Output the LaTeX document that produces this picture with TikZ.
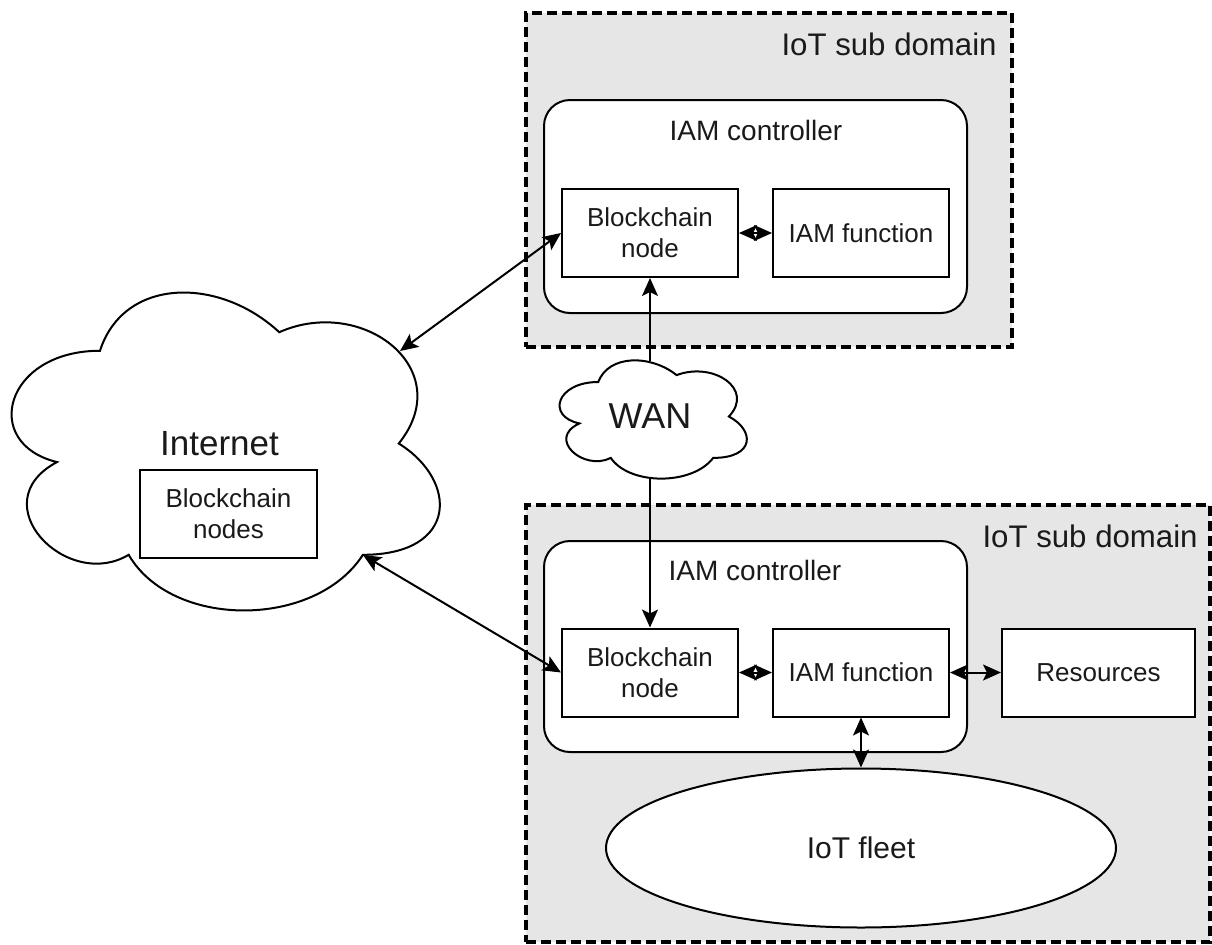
\documentclass[tikz,border=0pt]{standalone}
\usepackage{fontspec}
\setmainfont{Liberation Sans}
\usetikzlibrary{arrows.meta,shapes.geometric}
\definecolor{domgray}{HTML}{E6E6E6}
\definecolor{txt}{HTML}{1A1A1A}
\newcommand{\mxcloud}[5]{%
  \draw[#1] ({#2+0.25*#4},{#3+0.25*#5})
    .. controls ({#2+0.05*#4},{#3+0.25*#5}) and ({#2},{#3+0.5*#5}) .. ({#2+0.16*#4},{#3+0.55*#5})
    .. controls ({#2},{#3+0.66*#5}) and ({#2+0.18*#4},{#3+0.9*#5}) .. ({#2+0.31*#4},{#3+0.8*#5})
    .. controls ({#2+0.4*#4},{#3+#5}) and ({#2+0.7*#4},{#3+#5}) .. ({#2+0.8*#4},{#3+0.8*#5})
    .. controls ({#2+#4},{#3+0.8*#5}) and ({#2+#4},{#3+0.6*#5}) .. ({#2+0.875*#4},{#3+0.5*#5})
    .. controls ({#2+#4},{#3+0.3*#5}) and ({#2+0.8*#4},{#3+0.1*#5}) .. ({#2+0.625*#4},{#3+0.2*#5})
    .. controls ({#2+0.5*#4},{#3+0.05*#5}) and ({#2+0.3*#4},{#3+0.05*#5}) .. cycle;}
\tikzset{
  domainbox/.style={draw, dash pattern=on 5pt off 2.5pt, line width=1.75pt, fill=domgray, rectangle, inner sep=0pt},
  ctrlbox/.style={draw, line width=1pt, fill=white, rounded corners=13pt, inner sep=0pt, minimum width=211.5pt},
  fnbox/.style={draw, line width=1pt, fill=white, inner sep=0pt, minimum height=44pt, align=center,
    text=txt, font=\fontsize{13}{15.5}\selectfont},
  domlabel/.style={anchor=base east, text=txt, inner sep=0pt, font=\fontsize{15.6}{18}\selectfont},
  ctrllabel/.style={anchor=base, text=txt, inner sep=0pt, font=\fontsize{14}{16}\selectfont},
  tip/.tip={Stealth[length=9pt,width=8pt,inset=2pt]},
  lnk/.style={line width=1pt, -tip},
  dlnk/.style={line width=1pt, tip-tip},
  cloudline/.style={line width=1pt, fill=white},
}
\begin{document}
\begin{tikzpicture}[x=0.5pt,y=-0.5pt]
\useasboundingbox (0,0) rectangle (1212,944);
% domains
\node[domainbox, minimum width=243pt, minimum height=167pt] (topdom) at (769,180) {};
\node[domainbox, minimum width=342pt, minimum height=218.5pt] (botdom) at (868,723.5) {};
\node[domlabel] (toplbl) at (997,55) {IoT sub domain};
\node[domlabel] (botlbl) at (1198,547) {IoT sub domain};
% controllers
\node[ctrlbox, minimum height=106.5pt] (topctrl) at (755.5,206.5) {};
\node[ctrlbox, minimum height=105.5pt] (botctrl) at (755.5,646.5) {};
\node[ctrllabel] (topctrllbl) at (756,140) {IAM controller};
\node[ctrllabel] (botctrllbl) at (755,580) {IAM controller};
% function boxes
\node[fnbox, minimum width=88pt] (topbc) at (650,233) {Blockchain\\node};
\node[fnbox, minimum width=88pt] (topiam) at (861,233) {IAM function};
\node[fnbox, minimum width=88pt] (botbc) at (650,672.5) {Blockchain\\node};
\node[fnbox, minimum width=88pt] (botiam) at (861,672.5) {IAM function};
\node[fnbox, minimum width=96.5pt] (res) at (1098.5,672.5) {Resources};
% IoT fleet
\node[ellipse, draw, line width=1pt, fill=white, inner sep=0pt, minimum width=255pt, minimum height=79.5pt,
  text=txt, font=\fontsize{15}{18}\selectfont] (fleet) at (861,848) {IoT fleet};
% clouds
\mxcloud{cloudline}{-19.5}{258}{478}{371}
\mxcloud{cloudline}{546}{347.5}{209}{138}
\node[text=txt, inner sep=0pt, font=\fontsize{17.5}{20}\selectfont] (internet) at (219.5,444) {Internet};
\node[text=txt, inner sep=0pt, font=\fontsize{18}{21}\selectfont] (wan) at (650,416) {WAN};
\node[fnbox, minimum width=88.5pt] (bcnodes) at (228.5,514) {Blockchain\\nodes};
\coordinate (inetA) at (400,351);
\coordinate (inetB) at (363,555);
\coordinate (wanN) at (650,361);
\coordinate (wanS) at (650,478);
% connectors
\draw[lnk] (wanN) -- (topbc.south);
\draw[lnk] (wanS) -- (botbc.north);
\draw[dlnk] (inetA) -- (topbc.west);
\draw[dlnk] (inetB) -- (botbc.west);
\draw[dlnk] (topbc.east) -- (topiam.west);
\draw[dlnk] (botbc.east) -- (botiam.west);
\draw[dlnk] (botiam.east) -- (res.west);
\draw[dlnk] (botiam.south) -- (fleet.north);
\end{tikzpicture}
\end{document}
